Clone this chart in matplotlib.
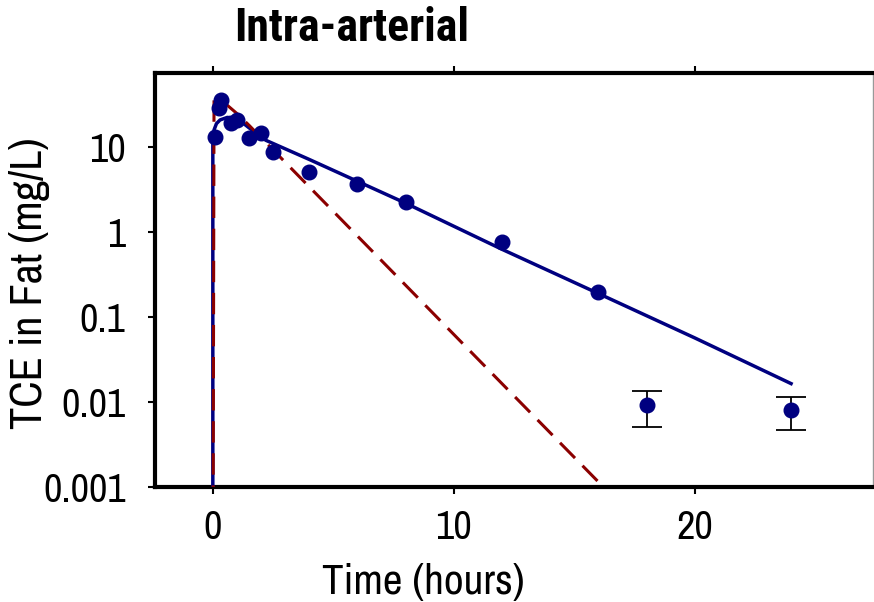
import matplotlib
matplotlib.use("Agg")
import matplotlib.pyplot as plt
import numpy as np

plt.rcParams['font.family'] = ['Archivo Narrow', 'Roboto Condensed', 'Liberation Sans', 'DejaVu Sans']

# Observed data (time in hours, TCE in fat mg/L)
t_obs = [0.083, 0.25, 0.33, 0.75, 1.0, 1.5, 2.0, 2.5, 4, 6, 8, 12, 16, 18, 24]
c_obs = [13.2, 28.8, 35.7, 19.1, 20.8, 12.7, 14.9, 8.8, 5.1, 3.67, 2.3, 0.76, 0.197, 0.0092, 0.0081]
# error bars (only the late points show visible bars)
t_err = [18, 24]
c_err = [0.0092, 0.0081]
c_lo = [0.0051, 0.0047]
c_hi = [0.0135, 0.0115]

# Model predictions
t_model1 = [0.0, 0.0, 0.05, 0.15, 0.3, 0.6, 1.0, 1.5, 2.2, 4, 8, 12, 16, 20, 24]
c_model1 = [1e-5, 11, 16, 19, 21, 22.5, 22, 17, 12.1, 7.2, 2.2, 0.63, 0.19, 0.057, 0.0165]

t_model2 = [0.0, 0.05, 0.3, 1.0, 1.5, 4, 8, 12, 16, 17]
c_model2 = [1e-5, 38, 37, 25, 18.2, 3.43, 0.238, 0.0165, 0.00115, 0.00059]

navy = '#000080'
dred = '#8B0000'

fig = plt.figure(figsize=(8.74, 6.02), dpi=100)
ax = fig.add_axes([155/874, 1-487/602, 718/874, 414/602])

ax.plot(t_model1, c_model1, color=navy, lw=2.5, zorder=3)
ax.plot(t_model2, c_model2, color=dred, lw=2.2, ls=(0, (7, 3.5)), zorder=4)

yerr = [np.array(c_err) - np.array(c_lo), np.array(c_hi) - np.array(c_err)]
ax.errorbar(t_err, c_err, yerr=yerr, fmt='none', ecolor='black', elinewidth=1.3,
            capsize=11, capthick=1.3, zorder=2)
ax.plot(t_obs, c_obs, 'o', color=navy, ms=10.5, zorder=5)

ax.set_yscale('log')
ax.set_ylim(0.001, 75)
ax.set_xlim(-2.4, 27.4)
ax.set_yticks([0.001, 0.01, 0.1, 1, 10])
ax.set_yticklabels(['0.001', '0.01', '0.1', '1', '10'])
ax.yaxis.set_minor_locator(matplotlib.ticker.NullLocator())
ax.set_xticks([0, 10, 20])
ax.set_xticklabels(['0', '10', '20'])

ax.tick_params(axis='both', which='major', direction='out', length=5, width=1.5,
               labelsize=29, top=True, right=False)
ax.tick_params(axis='y', pad=16)
ax.tick_params(axis='x', pad=11)

for s in ['left', 'bottom', 'top']:
    ax.spines[s].set_linewidth(3)
ax.spines['right'].set_linewidth(1)
ax.spines['right'].set_color('#999999')

fig.text(30/874, 1-283/602, 'TCE in Fat (mg/L)', fontsize=32, rotation=90,
         ha='center', va='center')
fig.text(423/874, 1-582/602, 'Time (hours)', fontsize=31, ha='center', va='center')
fig.text(352/874, 1-28/602, 'Intra-arterial', fontsize=33, fontweight='bold',
         family=['Roboto Condensed', 'DejaVu Sans'], ha='center', va='center')

fig.savefig('out.png', dpi=100)
